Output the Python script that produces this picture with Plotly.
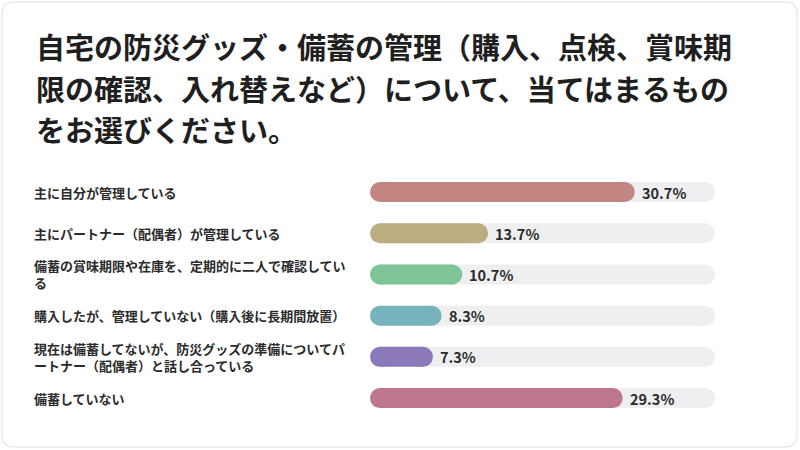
"""Survey result: home disaster-supply management, horizontal pill bars."""

import plotly.graph_objects as go

W, H = 800, 450

TITLE_LINES = [
    "自宅の防災グッズ・備蓄の管理（購入、点検、賞味期",
    "限の確認、入れ替えなど）について、当てはまるもの",
    "をお選びください。",
]
categories = [
    "主に自分が管理している",
    "主にパートナー（配偶者）が管理している",
    "備蓄の賞味期限や在庫を、定期的に二人で確認してい<br>る",
    "購入したが、管理していない（購入後に長期間放置）",
    "現在は備蓄してないが、防災グッズの準備についてパ<br>ートナー（配偶者）と話し合っている",
    "備蓄していない",
]
values = [30.7, 13.7, 10.7, 8.3, 7.3, 29.3]
value_labels = ["30.7%", "13.7%", "10.7%", "8.3%", "7.3%", "29.3%"]
AXIS_MAX = 40

colors = ["#C2857F", "#BCAD80", "#7EC497", "#77B3BC", "#8B79B9", "#BD7690"]
track = "#EFEFF2"
text_col = "#2b2b2b"
FONT = "Noto Sans CJK JP"

# plot area geometry (px) and bar thickness
X0_PX, X1_PX = 370, 715
BAR_PX = 20
cap = (BAR_PX / 2) / ((X1_PX - X0_PX) / AXIS_MAX)  # half bar height in data units

fig = go.Figure()


def pill(cat, v, col):
    # thick line with round dots at the ends -> pill from 0 to v
    fig.add_trace(go.Scatter(
        x=[cap, v - cap], y=[cat, cat], mode="lines+markers",
        line=dict(color=col, width=BAR_PX),
        marker=dict(color=col, size=BAR_PX, line=dict(width=0)),
        hoverinfo="skip", showlegend=False))


for cat in categories:
    pill(cat, AXIS_MAX, track)
for cat, v, col in zip(categories, values, colors):
    pill(cat, v, col)

for cat, v, lab in zip(categories, values, value_labels):
    fig.add_annotation(x=v, y=cat, text=f"<b>{lab}</b>", showarrow=False,
                       xanchor="left", xshift=5,
                       font=dict(size=14.5, color=text_col, family=FONT))
    fig.add_annotation(x=32 / W, xref="paper", y=cat, text=f"<b>{cat}</b>",
                       showarrow=False, xanchor="left", align="left",
                       font=dict(size=13, color=text_col, family=FONT))

for line, cy in zip(TITLE_LINES, [46, 88, 129]):
    fig.add_annotation(x=34 / W, xref="paper", y=1 - cy / H, yref="paper",
                       text=f"<b>{line}</b>", showarrow=False,
                       xanchor="left", yanchor="middle",
                       font=dict(size=29, color="#1f1f1f", family=FONT))

# card outline
x0, x1, y0, y1 = 2 / W, 797 / W, 1 - 447 / H, 1 - 2 / H
rx, ry = 12 / W, 12 / H
card = (f"M {x0+rx},{y0} L {x1-rx},{y0} Q {x1},{y0} {x1},{y0+ry} "
        f"L {x1},{y1-ry} Q {x1},{y1} {x1-rx},{y1} L {x0+rx},{y1} "
        f"Q {x0},{y1} {x0},{y1-ry} L {x0},{y0+ry} Q {x0},{y0} {x0+rx},{y0} Z")
fig.add_shape(type="path", path=card, xref="paper", yref="paper",
              line=dict(color="#E4E4E4", width=1.2), fillcolor="rgba(0,0,0,0)",
              layer="below")

fig.update_layout(
    width=W, height=H,
    margin=dict(l=0, r=0, t=0, b=0),
    paper_bgcolor="white", plot_bgcolor="rgba(0,0,0,0)",
    font=dict(family=FONT),
    xaxis=dict(domain=[X0_PX / W, X1_PX / W], range=[0, AXIS_MAX], visible=False,
               fixedrange=True),
    yaxis=dict(type="category", categoryorder="array", categoryarray=categories,
               range=[6.26, -4.66], visible=False, fixedrange=True),
    showlegend=False,
)

fig.write_html("out.html", config={"displayModeBar": False},
               post_script="document.body.style.margin='0';")
